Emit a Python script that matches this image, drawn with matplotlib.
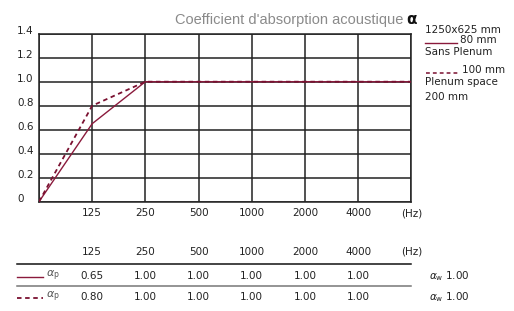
import numpy as np
import matplotlib.pyplot as plt
import matplotlib.transforms as mtransforms

# donnees
freqs = ['125', '250', '500', '1000', '2000', '4000']
alpha_80 = [0.65, 1.00, 1.00, 1.00, 1.00, 1.00]
alpha_100 = [0.80, 1.00, 1.00, 1.00, 1.00, 1.00]
alpha_w_80 = 1.00
alpha_w_100 = 1.00
y_ticks = [0, 0.2, 0.4, 0.6, 0.8, 1.0, 1.2, 1.4]
y_labels = ['0', '0.2', '0.4', '0.6', '0.8', '1.0', '1.2', '1.4']

W, H = 514, 311
red = '#8a1a3c'
red_dark = '#7a1030'

fig = plt.figure(figsize=(W / 100, H / 100), dpi=100)
ax = fig.add_axes([39 / W, 1 - 201.7 / H, (411.3 - 39) / W, (201.7 - 33.7) / H])

def px(x, y):
    return x / W, 1 - y / H

n = len(freqs)
xs = np.arange(0, n + 2)
# courbes: origine a 0, puis chaque bande, puis bord droit
y1 = [0] + alpha_80 + [alpha_80[-1]]
y2 = [0] + alpha_100 + [alpha_100[-1]]

ax.set_xlim(0, n + 1)
ax.set_ylim(0, 1.4)
ax.set_xticks(xs)
ax.set_yticks(y_ticks)
ax.grid(True, color='#222222', linewidth=1.1)
ax.tick_params(length=0, labelbottom=False, labelleft=False)
for s in ax.spines.values():
    s.set_color('#222222')
    s.set_linewidth(1.1)

ax.plot(xs, y1, color=red, linewidth=1.0, zorder=3)
ax.plot(xs, y2, color=red_dark, linewidth=1.3, linestyle=(0, (2.5, 2)), zorder=3)

fs = 7.5
txt = '#222222'
# etiquettes y
yblend = mtransforms.blended_transform_factory(fig.transFigure, ax.transData)
for v, lab in zip(y_ticks, y_labels):
    fig.text(17 / W, v + 0.02, lab, ha='left', va='center', fontsize=fs, color=txt,
             transform=yblend)

blend = mtransforms.blended_transform_factory(ax.transData, fig.transFigure)
xlab = freqs + ['(Hz)']
for i, lab in enumerate(xlab):
    fig.text(i + 1, 1 - 213 / H, lab, ha='center', va='center', fontsize=fs,
             color=txt, transform=blend)

# titre
fig.text(*px(403, 20), "Coefficient d'absorption acoustique", ha='right', va='center',
         fontsize=10.5, color='#8a8a8a', family='Liberation Sans')
fig.text(*px(406, 20), r'$\mathbf{\alpha}$', ha='left', va='center', fontsize=11, color='#111111')

# legende a droite
fl = 7.5
fig.text(*px(425, 30), '1250x625 mm', ha='left', va='center', fontsize=fl, color=txt)
fig.add_artist(plt.Line2D([425 / W, 457 / W], [1 - 43 / H, 1 - 43 / H], color=red, linewidth=1.0))
fig.text(*px(460, 40), '80 mm', ha='left', va='center', fontsize=fl, color=txt)
fig.text(*px(425, 52), 'Sans Plenum', ha='left', va='center', fontsize=fl, color=txt)
fig.add_artist(plt.Line2D([426 / W, 460 / W], [1 - 73 / H, 1 - 73 / H], color=red_dark,
                          linewidth=1.1, linestyle=(0, (2.5, 2))))
fig.text(*px(462, 70), '100 mm', ha='left', va='center', fontsize=fl, color=txt)
fig.text(*px(425, 82), 'Plenum space', ha='left', va='center', fontsize=fl, color=txt)
fig.text(*px(425, 97), '200 mm', ha='left', va='center', fontsize=fl, color=txt)

# tableau
for i, lab in enumerate(xlab):
    fig.text(i + 1, 1 - 252 / H, lab, ha='center', va='center', fontsize=fs,
             color=txt, transform=blend)
fig.add_artist(plt.Line2D([17 / W, 411 / W], [1 - 264 / H, 1 - 264 / H], color='#111111', linewidth=1.1))
fig.add_artist(plt.Line2D([17 / W, 411 / W], [1 - 286 / H, 1 - 286 / H], color='#777777', linewidth=1.1))

rows = [(alpha_80, alpha_w_80, 276, '-', red, 1.0),
        (alpha_100, alpha_w_100, 297, (0, (2.5, 2)), red_dark, 1.3)]
for vals, aw, yy, ls, c, lw in rows:
    fig.add_artist(plt.Line2D([17 / W, 43 / W], [1 - (yy + 1) / H, 1 - (yy + 1) / H],
                              color=c, linewidth=lw, linestyle=ls))
    fig.text(*px(46, yy), r'$\alpha_\mathrm{p}$', ha='left', va='center', fontsize=8, color='#555555')
    for i, v in enumerate(vals):
        fig.text(i + 1, 1 - yy / H, '%.2f' % v, ha='center', va='center', fontsize=fs,
                 color=txt, transform=blend)
    fig.text(*px(429, yy), r'$\alpha_\mathrm{w}$' + ' %.2f' % aw, ha='left', va='center',
             fontsize=fs, color=txt)

fig.savefig('out.png', dpi=100)
